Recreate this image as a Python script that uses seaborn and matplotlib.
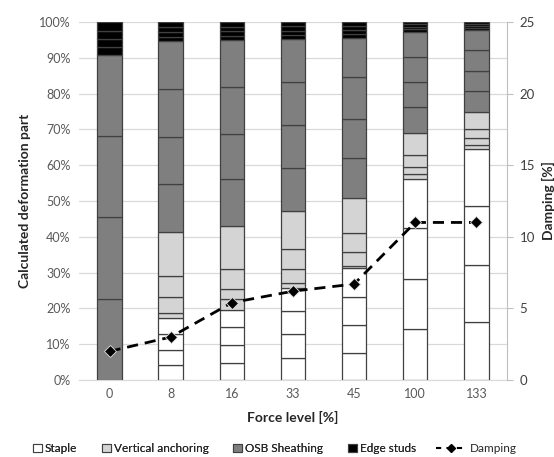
import seaborn as sns
import numpy as np
import matplotlib.pyplot as plt
from matplotlib.patches import Patch
from matplotlib.lines import Line2D

# Datos (4 sub-partes por componente, de abajo hacia arriba)
force_levels = ["0", "8", "16", "33", "45", "100", "133"]

staple = [
    [0, 0, 0, 0],
    [4.2, 4.2, 4.4, 4.4],
    [4.8, 5.0, 4.9, 4.9],
    [6.2, 6.6, 6.5, 6.3],
    [7.6, 7.8, 7.7, 8.1],
    [14.2, 14.0, 14.2, 13.6],
    [16.1, 16.0, 16.5, 15.8],
]
vertical_anchoring = [
    [0, 0, 0, 0],
    [1.4, 4.7, 5.8, 12.3],
    [2.9, 2.8, 5.8, 12.0],
    [1.4, 3.9, 5.7, 10.7],
    [0.6, 4.0, 5.2, 9.8],
    [1.5, 2.1, 3.2, 6.3],
    [1.2, 1.9, 2.5, 4.9],
]
osb_sheathing = [
    [22.6, 22.8, 22.7, 22.8],
    [13.2, 13.3, 13.5, 13.2],
    [12.9, 12.8, 13.1, 13.0],
    [11.8, 12.1, 12.1, 11.9],
    [11.1, 11.1, 11.5, 11.0],
    [7.1, 7.0, 7.1, 7.0],
    [5.9, 5.6, 5.8, 5.6],
]
edge_studs = [
    [2.1, 2.3, 2.3, 2.4],
    [1.3, 1.4, 1.3, 1.4],
    [1.3, 1.3, 1.2, 1.3],
    [1.2, 1.2, 1.2, 1.2],
    [1.1, 1.1, 1.2, 1.1],
    [0.7, 0.7, 0.7, 0.6],
    [0.5, 0.6, 0.5, 0.6],
]
damping = [2.0, 3.0, 5.4, 6.2, 6.7, 11.0, 11.0]

components = [
    ("Staple", staple, "#ffffff"),
    ("Vertical anchoring", vertical_anchoring, "#d4d4d4"),
    ("OSB Sheathing", osb_sheathing, "#7f7f7f"),
    ("Edge studs", edge_studs, "#000000"),
]

sns.set_style("white")
plt.rcParams['font.family'] = ['Lato', 'DejaVu Sans']

fig = plt.figure(figsize=(5.54, 4.57), dpi=100)
ax = fig.add_axes([0.1426, 0.1685, 0.7724, 0.7835])

x = np.arange(len(force_levels))
bottom = np.zeros(len(force_levels))
for name, parts, color in components:
    parts = np.array(parts)
    for k in range(4):
        ax.bar(x, parts[:, k], bottom=bottom, width=0.4, color=color,
               edgecolor="#404040", linewidth=0.9, zorder=2)
        bottom += parts[:, k]

ax.set_xlim(-0.5, len(force_levels) - 0.5)
ax.set_ylim(0, 100)
ax.set_yticks(np.arange(0, 101, 10))
ax.set_yticklabels([f"{v}%" for v in range(0, 101, 10)])
ax.set_xticks(x)
ax.set_xticklabels(force_levels)
ax.yaxis.grid(True, color="#d9d9d9", linewidth=0.9, zorder=0)
ax.set_axisbelow(True)
for s in ["left", "top", "right"]:
    ax.spines[s].set_visible(False)
ax.spines["bottom"].set_color("#d9d9d9")
ax.tick_params(axis="both", length=0, labelsize=9, colors="#595959", pad=6)
ax.set_xlabel("Force level [%]", fontsize=10, fontweight="bold", labelpad=8)
ax.set_ylabel("Calculated deformation part", fontsize=10, fontweight="bold", labelpad=6)

ax2 = ax.twinx()
ax2.plot(x, damping, color="black", linestyle=(0, (4, 2.5)), linewidth=2,
         marker="D", markersize=6, markeredgecolor="#e0e0e0", markeredgewidth=0.6, zorder=5)
ax2.set_ylim(0, 25)
ax2.set_yticks(range(0, 26, 5))
for s in ["left", "top", "bottom"]:
    ax2.spines[s].set_visible(False)
ax2.spines["right"].set_color("#bfbfbf")
ax2.tick_params(axis="y", length=4, colors="#bfbfbf", labelcolor="#404040", labelsize=9.5, pad=5)
ax2.set_ylabel("Damping [%]", fontsize=10, fontweight="bold", rotation=90)
ax2.yaxis.set_label_coords(1.083, 0.5)

# Leyenda: parches cuadrados + linea de damping con mango mas largo
patches = [Patch(facecolor=c, edgecolor="#404040", linewidth=0.8, label=n) for n, _, c in components]
leg1 = fig.legend(handles=patches, loc="center", bbox_to_anchor=(0.405, 0.018), ncol=4,
                  frameon=False, fontsize=8.5, handlelength=0.75, handleheight=0.75,
                  handletextpad=0.25, columnspacing=2.1)
line = Line2D([0], [0], color="black", linestyle=(0, (2.5, 2.5)), linewidth=1.5,
              marker="D", markersize=4, label="Damping")
fig.legend(handles=[line], loc="center", bbox_to_anchor=(0.86, 0.018),
           frameon=False, fontsize=8.5, handlelength=2.6, handletextpad=0.3)
fig.add_artist(leg1)

fig.savefig("out.png", dpi=100)
